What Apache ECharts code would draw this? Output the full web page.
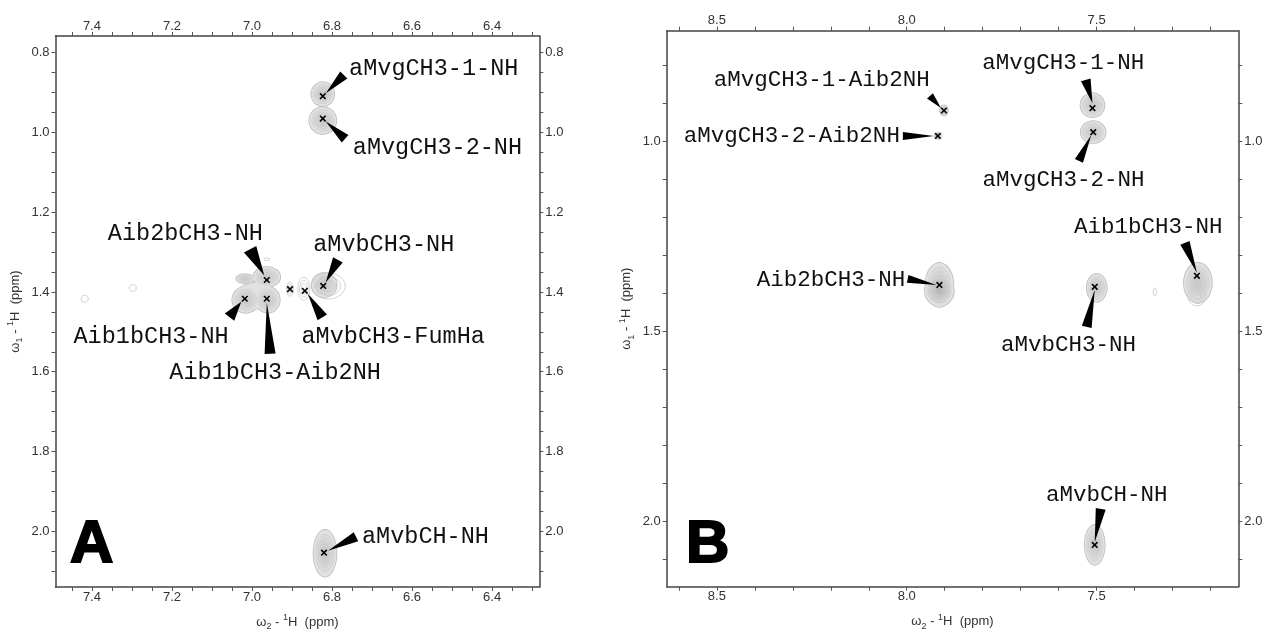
<!DOCTYPE html>
<html>
<head>
<meta charset="utf-8">
<script src="https://cdn.jsdelivr.net/npm/echarts@6/dist/echarts.min.js"></script>
<style>html,body{margin:0;padding:0;background:#fff}#c{width:1266px;height:636px}</style>
</head>
<body>
<div id="c"></div>
<script>
// ---------------- DATA ----------------
// Panel A peaks (omega2 / omega1 in ppm)
const A_NAMES = ['aMvgCH3-1-NH','aMvgCH3-2-NH','Aib2bCH3-NH','Aib1bCH3-NH','Aib1bCH3-Aib2NH','','aMvbCH3-FumHa','aMvbCH3-NH','aMvbCH-NH'];
const A_W2 = [6.823, 6.823, 6.963, 7.018, 6.963, 6.905, 6.868, 6.822, 6.820];
const A_W1 = [0.909, 0.965, 1.370, 1.417, 1.417, 1.393, 1.397, 1.385, 2.054];
const A_NOISE_W2 = [7.418, 7.298, 6.963];
const A_NOISE_W1 = [1.417, 1.390, 1.318];
// Panel B peaks
const B_NAMES = ['aMvgCH3-1-Aib2NH','aMvgCH3-2-Aib2NH','aMvgCH3-1-NH','aMvgCH3-2-NH','Aib2bCH3-NH','aMvbCH3-NH','Aib1bCH3-NH','aMvbCH-NH'];
const B_W2 = [7.902, 7.918, 7.511, 7.509, 7.914, 7.505, 7.236, 7.505];
const B_W1 = [0.918, 0.985, 0.912, 0.975, 1.377, 1.382, 1.353, 2.061];
const B_NOISE_W2 = [7.347];
const B_NOISE_W1 = [1.395];
// Axis extents and tick labels
const A_W2_RANGE = [6.282, 7.491];
const A_W1_RANGE = [0.758, 2.140];
const B_W2_RANGE = [7.127, 8.632];
const B_W1_RANGE = [0.708, 2.171];
const A_W2_TICKLABELS = [6.4, 6.6, 6.8, 7.0, 7.2, 7.4];
const A_W1_TICKLABELS = [0.8, 1.0, 1.2, 1.4, 1.6, 1.8, 2.0];
const B_W2_TICKLABELS = [7.5, 8.0, 8.5];
const B_W1_TICKLABELS = [1.0, 1.5, 2.0];
const A_MINOR_STEP = 0.05;
const B_MINOR_STEP = 0.1;

// ---------------- LAYOUT (pixel offsets relative to each peak) ----------------
// label: [dx, dy, align]; wedge: [baseDx, baseDy, apexDx, apexDy, halfWidth]; blobs: [dx, dy, rx, ry, kind]
// kind 0: filled contour with rings, 1: outline rings only, 2: fill only
const A_LAYOUT = [
  {label:[26.3,-27.7,'left'],  wedge:[21,-21.3,3,-3,5],       blobs:[[0,-2,11.5,12,0]]},
  {label:[30,29.6,'left'],     wedge:[22.3,20.3,3,3,5],       blobs:[[0,2,13.5,13.5,0]]},
  {label:[-81.4,-46.3,'center'],wedge:[-16.7,-30.8,-2.5,-4.5,7],blobs:[[0,-3,13.5,10,0],[-21.7,-1.3,9,4.5,0]]},
  {label:[-93.7,37.7,'center'],wedge:[-15.3,18.3,-3.5,3,6],   blobs:[[11,-3,19,13,2],[1,1,13.5,13,0]]},
  {label:[8.3,74.3,'center'],  wedge:[3.3,55,0,4,5.5],        blobs:[[1,1,12,13,0]]},
  {label:null, wedge:null,                                     blobs:[[0,0,3.5,7,1]]},
  {label:[-3.3,46,'left'],     wedge:[17.5,26.6,3,3,5.5],     blobs:[[-1,-2,6,11.5,1]]},
  {label:[-10,-41,'left'],     wedge:[14.7,-26,2.5,-3.5,5.5], blobs:[[5,0,17,13,1],[1,-1,12.5,12,0]]},
  {label:[38,-16,'left'],      wedge:[32,-16,4,-2,5],         blobs:[[1,0.5,11.5,23.5,0]]}
];
const A_NOISE_LAYOUT = [[3.5,3.5],[3.5,3.5],[3,1.2]];
const B_LAYOUT = [
  {label:[-122.3,-30,'center'], wedge:[-14,-14.7,-3,-2.5,4],  blobs:[[0,0,4,5,0]]},
  {label:[-38,0,'right'],       wedge:[-35,0,-4,0,4],         blobs:[[0,0,3,3,0]]},
  {label:[-29.3,-45,'center'],  wedge:[-6.7,-28.3,0,-5,5],    blobs:[[0,-3,12,12,0]]},
  {label:[-29.8,47.7,'center'], wedge:[-14.3,28.7,-2,3,4.5],  blobs:[[0,0,12.5,11,0]]},
  {label:[-34.2,-5,'right'],    wedge:[-31.7,-6,-3,0,4],      blobs:[[0,0,14,22,0],[0,6,14.5,15,0]]},
  {label:[-26.3,58,'center'],   wedge:[-8,40,0,3,5],          blobs:[[2,1,10,14,0]]},
  {label:[-48.6,-48.3,'center'],wedge:[-12,-33,0,-3,5],       blobs:[[1,7,14,20,0],[0,20,9,10,1]]},
  {label:[12,-50,'center'],     wedge:[6,-36,0,-3,5],         blobs:[[0,0,10,20,0]]}
];
const B_NOISE_LAYOUT = [[1.5,4]];

// ---------------- HELPERS ----------------
function minorTicks(range, step){
  const out=[];
  for(let k=Math.ceil(range[0]/step-1e-9); k*step<=range[1]+1e-9; k++) out.push(+(k*step).toFixed(3));
  return out;
}
function ellipsePts(cx, cy, rx, ry){
  const pts=[];
  for(let i=0;i<48;i++){const t=i/48*2*Math.PI; pts.push([cx+rx*Math.cos(t), cy+ry*Math.sin(t)]);}
  return pts;
}
const LABEL_FONT = '"Liberation Mono","Courier New",monospace';
const AXIS_FONT = '"Liberation Sans",Arial,sans-serif';

// pass 0: outline silhouette, pass 1: base fill, pass 2: inner contour rings
function blobChildren(c, blobs, pass){
  const ch=[];
  blobs.forEach(b=>{
    const [dx,dy,rx,ry,kind]=b;
    const cx=c[0]+dx, cy=c[1]+dy;
    if(kind===0 || kind===2){
      if(pass===0){
        ch.push({type:'polygon', shape:{points:ellipsePts(cx,cy,rx+0.8,ry+0.8)}, style:{fill:'#bdbdbd'}});
      } else if(pass===1){
        ch.push({type:'polygon', shape:{points:ellipsePts(cx,cy,rx,ry)}, style:{fill:'#e1e1e1'}});
      } else if(kind===0){
        [0.8,0.62,0.45,0.28].forEach(s=>{
          ch.push({type:'polygon', shape:{points:ellipsePts(cx,cy,rx*s,ry*s)},
            style:{fill:'rgba(0,0,0,0.025)', stroke:'#cacaca', lineWidth:0.6}});
        });
      }
    } else if(pass===2){
      [1,0.72,0.45].forEach(s=>{
        ch.push({type:'polygon', shape:{points:ellipsePts(cx,cy,rx*s,ry*s)},
          style:{fill:'none', stroke:'#c6c6c6', lineWidth:0.8}});
      });
    }
  });
  return ch;
}
function contourRender(layout, pass){
  return function(params, api){
    const i=api.value(2);
    const c=api.coord([api.value(0), api.value(1)]);
    return {type:'group', children: blobChildren(c, layout[i].blobs, pass)};
  };
}
function noiseRender(layout){
  return function(params, api){
    const i=api.value(2);
    const c=api.coord([api.value(0), api.value(1)]);
    const [rx,ry]=layout[i];
    return {type:'polygon', shape:{points:ellipsePts(c[0],c[1],rx,ry)}, style:{fill:'none', stroke:'#c4c4c4', lineWidth:0.9}};
  };
}
function annotRender(layout, names, fontSize){
  return function(params, api){
    const i=api.value(2);
    const c=api.coord([api.value(0), api.value(1)]);
    const L=layout[i];
    const ch=[];
    const m=2.8;
    ch.push({type:'line', shape:{x1:c[0]-m,y1:c[1]-m,x2:c[0]+m,y2:c[1]+m}, style:{stroke:'#000', lineWidth:1.6}});
    ch.push({type:'line', shape:{x1:c[0]-m,y1:c[1]+m,x2:c[0]+m,y2:c[1]-m}, style:{stroke:'#000', lineWidth:1.6}});
    if(L.wedge){
      const [bx,by,ax,ay,hw]=L.wedge;
      const Bx=c[0]+bx, By=c[1]+by, Ax=c[0]+ax, Ay=c[1]+ay;
      let vx=Ax-Bx, vy=Ay-By; const len=Math.hypot(vx,vy)||1; vx/=len; vy/=len;
      const px=-vy*hw, py=vx*hw;
      ch.push({type:'polygon', shape:{points:[[Bx+px,By+py],[Bx-px,By-py],[Ax,Ay]]}, style:{fill:'#000'}});
    }
    if(L.label){
      const [dx,dy,al]=L.label;
      ch.push({type:'text', style:{text:names[i], x:c[0]+dx, y:c[1]+dy, fill:'#111',
        font: fontSize+'px '+LABEL_FONT, align:al, verticalAlign:'middle'}});
    }
    return {type:'group', children:ch};
  };
}

const TITLE_RICH = {
  n:{fontSize:13, fontFamily:AXIS_FONT, color:'#333', lineHeight:18, verticalAlign:'middle'},
  s:{fontSize:9, fontFamily:AXIS_FONT, color:'#333', lineHeight:9, verticalAlign:'bottom'},
  p:{fontSize:9, fontFamily:AXIS_FONT, color:'#333', lineHeight:9, verticalAlign:'top'}
};
function xAxisCfg(grid, pos, range, labels, step, withName){
  return {
    type:'value', gridIndex:grid, position:pos, inverse:true, min:range[0], max:range[1],
    axisLine:{show:true, onZero:false, lineStyle:{color:'#444', width:1.5}},
    axisTick:{show:true, length:4, customValues:minorTicks(range, step), lineStyle:{color:'#555', width:1}},
    axisLabel:{show:true, customValues:labels, formatter:v=>(+v).toFixed(1), color:'#333', fontSize:13, fontFamily:AXIS_FONT, margin:3.5},
    splitLine:{show:false},
    name: withName ? '{n|ω}{s|2}{n| - }{p|1}{n|H  (ppm)}' : '',
    nameLocation:'middle', nameGap:26, nameTextStyle:{rich:TITLE_RICH}
  };
}
function yAxisCfg(grid, pos, range, labels, step, withName){
  return {
    type:'value', gridIndex:grid, position:pos, inverse:true, min:range[0], max:range[1],
    axisLine:{show:true, onZero:false, lineStyle:{color:'#444', width:1.5}},
    axisTick:{show:true, length:4, customValues:minorTicks(range, step), lineStyle:{color:'#555', width:1}},
    axisLabel:{show:true, customValues:labels, formatter:v=>(+v).toFixed(1), color:'#333', fontSize:13, fontFamily:AXIS_FONT, margin:6},
    splitLine:{show:false},
    name: withName ? '{n|ω}{s|1}{n| - }{p|1}{n|H  (ppm)}' : '',
    nameLocation:'middle', nameGap:31, nameRotate:90, nameTextStyle:{rich:TITLE_RICH}
  };
}

function peakSeries(xi, yi, w2, w1, layout, names, fontSize, noiseW2, noiseW1, noiseLayout){
  const data = w2.map((x,i)=>[x,w1[i],i]);
  const base = {type:'custom', xAxisIndex:xi, yAxisIndex:yi, clip:false, encode:{x:0,y:1}, silent:true};
  return [
    Object.assign({}, base, {z:2, renderItem:noiseRender(noiseLayout), data:noiseW2.map((x,i)=>[x,noiseW1[i],i])}),
    Object.assign({}, base, {z:2, renderItem:contourRender(layout,0), data}),
    Object.assign({}, base, {z:3, renderItem:contourRender(layout,1), data}),
    Object.assign({}, base, {z:4, renderItem:contourRender(layout,2), data}),
    Object.assign({}, base, {z:5, renderItem:annotRender(layout,names,fontSize), data})
  ];
}

const chart = echarts.init(document.getElementById('c'), null, {renderer:'canvas'});
const option = {
  animation:false,
  backgroundColor:'#fff',
  grid:[
    {left:55.5, top:36, width:483.8, height:551.3},
    {left:666.7, top:30.7, width:571.6, height:556}
  ],
  xAxis:[
    xAxisCfg(0,'bottom',A_W2_RANGE,A_W2_TICKLABELS,A_MINOR_STEP,true),
    xAxisCfg(0,'top',A_W2_RANGE,A_W2_TICKLABELS,A_MINOR_STEP,false),
    xAxisCfg(1,'bottom',B_W2_RANGE,B_W2_TICKLABELS,B_MINOR_STEP,true),
    xAxisCfg(1,'top',B_W2_RANGE,B_W2_TICKLABELS,B_MINOR_STEP,false)
  ],
  yAxis:[
    yAxisCfg(0,'left',A_W1_RANGE,A_W1_TICKLABELS,A_MINOR_STEP,true),
    yAxisCfg(0,'right',A_W1_RANGE,A_W1_TICKLABELS,A_MINOR_STEP,false),
    yAxisCfg(1,'left',B_W1_RANGE,B_W1_TICKLABELS,B_MINOR_STEP,true),
    yAxisCfg(1,'right',B_W1_RANGE,B_W1_TICKLABELS,B_MINOR_STEP,false)
  ],
  graphic:[
    {type:'text', x:70, y:545, style:{text:'A', font:'bold 60px '+AXIS_FONT, fill:'#000', stroke:'#000', lineWidth:2, verticalAlign:'middle', align:'left'}},
    {type:'text', x:686, y:545, style:{text:'B', font:'bold 60px '+AXIS_FONT, fill:'#000', stroke:'#000', lineWidth:2, verticalAlign:'middle', align:'left'}}
  ],
  series:[].concat(
    peakSeries(0,0,A_W2,A_W1,A_LAYOUT,A_NAMES,23.5,A_NOISE_W2,A_NOISE_W1,A_NOISE_LAYOUT),
    peakSeries(2,2,B_W2,B_W1,B_LAYOUT,B_NAMES,22.5,B_NOISE_W2,B_NOISE_W1,B_NOISE_LAYOUT)
  )
};
chart.setOption(option);
</script>
</body>
</html>
